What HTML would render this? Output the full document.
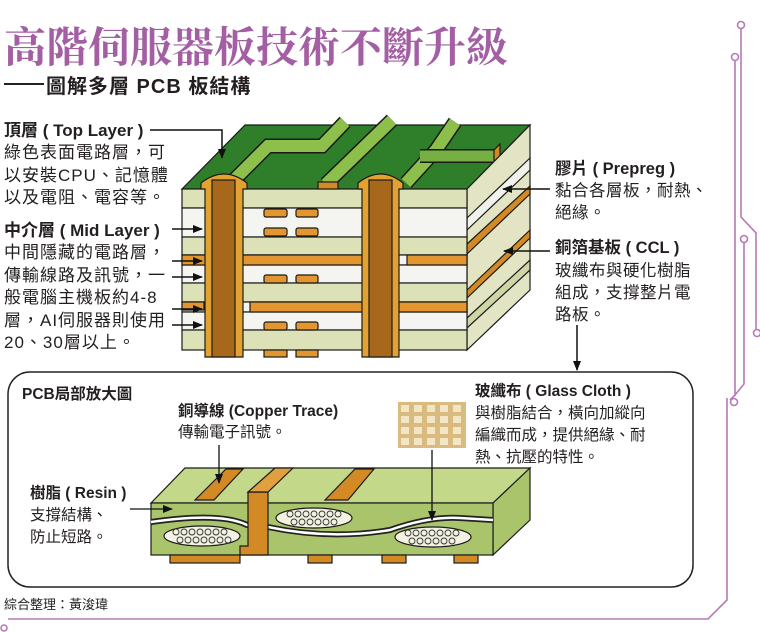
<!DOCTYPE html>
<html><head><meta charset="utf-8">
<style>
html,body{margin:0;padding:0;background:#fff;}
svg{display:block;}
text{font-family:"Liberation Sans","Noto Sans CJK TC",sans-serif;fill:#231f20;}
.b{font-weight:bold;}
</style></head><body>
<svg width="760" height="632" viewBox="0 0 760 632" xmlns="http://www.w3.org/2000/svg">
<defs>
<marker id="ar" markerWidth="10" markerHeight="8" refX="9" refY="4" orient="auto" markerUnits="userSpaceOnUse">
<path d="M0,0 L10,4 L0,8 z" fill="#111"/></marker>
</defs>
<!-- Title -->
<text x="4" y="62" font-size="42" font-weight="bold" style="fill:#a45fa4;font-family:'Liberation Serif','Noto Serif CJK SC',serif">高階伺服器板技術不斷升級</text>
<line x1="4" y1="84" x2="44" y2="84" stroke="#222" stroke-width="2"/>
<text x="46" y="93" font-size="20" font-weight="bold" letter-spacing="1">圖解多層 PCB 板結構</text>

<!-- circuit decoration -->
<g stroke="#b77ab7" stroke-width="1.6" fill="#fff">
<polyline fill="none" points="741,29 741,217 756,233 756,329"/>
<circle cx="741" cy="25" r="3.5"/><circle cx="757" cy="333" r="3.5"/>
<polyline fill="none" points="735,61 735,395 730,400"/>
<polyline fill="none" points="744,243 744,384 735,395"/>
<circle cx="735" cy="57" r="3.5"/><circle cx="744" cy="239" r="3.5"/><circle cx="734" cy="402" r="3.5"/>
<polyline fill="none" points="727,398 727,600 708,619 8,619"/>
<circle cx="4" cy="628" r="3"/>
</g>

<!-- Main PCB block -->
<g stroke="#1a1a1a" stroke-width="1.2">
<polygon points="182,189 467,189 530,125 245,125" fill="#2f7e2a"/>
</g>
<!-- top traces as ribbons -->
<g fill="none" stroke-linejoin="miter">
<polyline points="232,182 268,146 322,146 345,122" stroke="#1a1a1a" stroke-width="15"/>
<polyline points="232,182 268,146 322,146 345,122" stroke="#8cc04a" stroke-width="12"/>
<polyline points="326,184 392,120" stroke="#1a1a1a" stroke-width="15"/>
<polyline points="326,184 392,120" stroke="#8cc04a" stroke-width="12"/>
<polyline points="406,183 436,150 455,122" stroke="#1a1a1a" stroke-width="15"/>
<polyline points="406,183 436,150 455,122" stroke="#8cc04a" stroke-width="12"/>
<polyline points="420,156 494,156" stroke="#1a1a1a" stroke-width="14"/>
<polyline points="420,156 494,156" stroke="#76b043" stroke-width="11"/>
</g>
<g stroke="#1a1a1a" stroke-width="1.2">
<polygon points="494,150 500,144 500,157 494,163" fill="#d38a25"/>
<!-- right face -->
<polygon points="467,189 530,125 530,290 467,350" fill="#e2e4c4"/>
<polygon points="467,244 530,186 530,194 467,254" fill="#d38a25"/>
<polygon points="467,290 530,230 530,238 467,298" fill="#d38a25"/>
<polygon points="467,318 530,260 530,270 467,328" fill="#cfd6a6"/>
<polygon points="467,218 530,158 530,170 467,230" fill="#f2f2ec"/>
<!-- front face layers -->
<rect x="182" y="189" width="285" height="19" fill="#dde1b8"/>
<rect x="182" y="208" width="285" height="29" fill="#f4f4f1"/>
<rect x="182" y="237" width="285" height="18" fill="#dde1b8"/>
<rect x="182" y="255" width="285" height="10" fill="#f4f4f1"/>
<rect x="182" y="265" width="285" height="18" fill="#f4f4f1"/>
<rect x="182" y="283" width="285" height="19" fill="#dde1b8"/>
<rect x="182" y="302" width="285" height="10" fill="#f4f4f1"/>
<rect x="182" y="312" width="285" height="18" fill="#f4f4f1"/>
<rect x="182" y="330" width="285" height="20" fill="#dde1b8"/>
<rect x="182" y="255" width="182" height="10" fill="#e3962f"/>
<rect x="407" y="255" width="60" height="10" fill="#e3962f"/>
<rect x="250" y="302" width="217" height="10" fill="#e3962f"/>
<rect x="182" y="302" width="22" height="8" fill="#e3962f"/>
<g fill="#e3962f">
<rect x="264" y="209" width="23" height="8" rx="2"/><rect x="296" y="209" width="22" height="8" rx="2"/>
<rect x="264" y="228" width="23" height="8" rx="2"/><rect x="296" y="228" width="22" height="8" rx="2"/>
<rect x="264" y="275" width="23" height="8" rx="2"/><rect x="296" y="275" width="22" height="8" rx="2"/>
<rect x="264" y="322" width="23" height="8" rx="2"/><rect x="296" y="322" width="22" height="8" rx="2"/>
<rect x="264" y="350" width="23" height="7"/><rect x="296" y="350" width="22" height="7"/>
</g>
<path d="M201,189 L201,183 Q224,165 247,183 L247,189 L243,189 L243,357 L205,357 L205,189 Z" fill="#e3a12f"/>
<rect x="212" y="180" width="23" height="177" fill="#a8681c"/>
<path d="M358,189 L358,183 Q381,165 403,183 L403,189 L399,189 L399,357 L362,357 L362,189 Z" fill="#e3a12f"/>
<rect x="369" y="180" width="23" height="177" fill="#a8681c"/>
<rect x="318" y="182" width="20" height="7" fill="#d38a25"/>
</g>
<g stroke="#111" stroke-width="1.5" fill="none" marker-end="url(#ar)">
<polyline points="150,130 222,130 222,158"/>
<line x1="172" y1="229" x2="202" y2="229"/>
<line x1="172" y1="261" x2="202" y2="261"/>
<line x1="172" y1="277" x2="202" y2="277"/>
<line x1="172" y1="309" x2="202" y2="309"/>
<line x1="172" y1="325" x2="202" y2="325"/>
<line x1="550" y1="189" x2="503" y2="189"/>
<line x1="550" y1="251" x2="504" y2="251"/>
<line x1="577" y1="325" x2="577" y2="370"/>
</g>

<g font-size="17" letter-spacing="1">
<text x="4" y="136" class="b" letter-spacing="0">頂層 ( Top Layer )</text>
<text x="4" y="158">綠色表面電路層，可</text>
<text x="4" y="181">以安裝CPU、記憶體</text>
<text x="4" y="203">以及電阻、電容等。</text>
<text x="4" y="236" class="b" letter-spacing="0">中介層 ( Mid Layer )</text>
<text x="4" y="258">中間隱藏的電路層，</text>
<text x="4" y="281">傳輸線路及訊號，一</text>
<text x="4" y="303">般電腦主機板約4-8</text>
<text x="4" y="326">層，AI伺服器則使用</text>
<text x="4" y="348">20、30層以上。</text>
</g>
<g font-size="16.5" letter-spacing="0.5">
<text x="555" y="174" class="b" letter-spacing="0">膠片 ( Prepreg )</text>
<text x="555" y="196">黏合各層板，耐熱、</text>
<text x="555" y="218">絕緣。</text>
<text x="555" y="253" class="b" letter-spacing="0">銅箔基板 ( CCL )</text>
<text x="555" y="276">玻纖布與硬化樹脂</text>
<text x="555" y="298">組成，支撐整片電</text>
<text x="555" y="320">路板。</text>
</g>

<rect x="8" y="372" width="685" height="215" rx="22" fill="none" stroke="#222" stroke-width="1.5"/>
<g font-size="15.5">
<text x="22" y="399" class="b">PCB局部放大圖</text>
<text x="178" y="416" class="b">銅導線 (Copper Trace)</text>
<text x="178" y="437">傳輸電子訊號。</text>
<text x="475" y="396" class="b">玻纖布 ( Glass Cloth )</text>
<text x="475" y="418">與樹脂結合，橫向加縱向</text>
<text x="475" y="440">編織而成，提供絕緣、耐</text>
<text x="475" y="462">熱、抗壓的特性。</text>
<text x="30" y="498" class="b">樹脂 ( Resin )</text>
<text x="30" y="520">支撐結構、</text>
<text x="30" y="542">防止短路。</text>
</g>
<rect x="398" y="402" width="68" height="46" fill="#d9bb80"/>
<g fill="#f3e6c6">
<rect x="401" y="405" width="8" height="7"/><rect x="414" y="405" width="8" height="7"/><rect x="427" y="405" width="8" height="7"/><rect x="440" y="405" width="8" height="7"/><rect x="453" y="405" width="8" height="7"/>
<rect x="401" y="416" width="8" height="7"/><rect x="414" y="416" width="8" height="7"/><rect x="427" y="416" width="8" height="7"/><rect x="440" y="416" width="8" height="7"/><rect x="453" y="416" width="8" height="7"/>
<rect x="401" y="427" width="8" height="7"/><rect x="414" y="427" width="8" height="7"/><rect x="427" y="427" width="8" height="7"/><rect x="440" y="427" width="8" height="7"/><rect x="453" y="427" width="8" height="7"/>
<rect x="401" y="438" width="8" height="7"/><rect x="414" y="438" width="8" height="7"/><rect x="427" y="438" width="8" height="7"/><rect x="440" y="438" width="8" height="7"/><rect x="453" y="438" width="8" height="7"/>
</g>

<g stroke="#1a1a1a" stroke-width="1.2">
<polygon points="151,503 493,503 530,468 185,468" fill="#c4d88a"/>
<polygon points="493,503 530,468 530,520 493,555" fill="#a9c46a"/>
<rect x="151" y="503" width="342" height="52" fill="#a9c46a"/>
<g fill="#d38a25">
<rect x="170" y="555" width="70" height="8"/><rect x="308" y="555" width="24" height="8"/><rect x="382" y="555" width="24" height="8"/><rect x="454" y="555" width="24" height="8"/>
</g>
<path d="M151,522 Q220,512 247,525 L268,527 Q330,540 390,530 Q430,516 460,518 L493,520" fill="none" stroke="#222" stroke-width="6"/>
<path d="M151,522 Q220,512 247,525 L268,527 Q330,540 390,530 Q430,516 460,518 L493,520" fill="none" stroke="#fff" stroke-width="2.5"/>
<ellipse cx="202" cy="536" rx="38" ry="10" fill="#f3f2e2"/>
<ellipse cx="314" cy="518" rx="38" ry="10" fill="#f3f2e2"/>
<ellipse cx="433" cy="537" rx="38" ry="10" fill="#f3f2e2"/>
<polygon points="195,500 214,500 243,469 226,469" fill="#d38a25"/>
<polygon points="325,500 348,500 374,469 355,469" fill="#d38a25"/>
<path d="M248,492 L268,492 L268,555 L240,555 L240,546 L248,546 Z" fill="#d38a25"/>
<polygon points="248,492 268,492 293,468 275,468" fill="#e0a040"/>
</g>
<g fill="none" stroke="#333" stroke-width="0.9">
<circle cx="176" cy="532" r="3"/><circle cx="184" cy="532" r="3"/><circle cx="192" cy="532" r="3"/><circle cx="200" cy="532" r="3"/><circle cx="208" cy="532" r="3"/><circle cx="216" cy="532" r="3"/><circle cx="224" cy="532" r="3"/>
<circle cx="180" cy="540" r="3"/><circle cx="188" cy="540" r="3"/><circle cx="196" cy="540" r="3"/><circle cx="204" cy="540" r="3"/><circle cx="212" cy="540" r="3"/><circle cx="220" cy="540" r="3"/><circle cx="228" cy="540" r="3"/>
<circle cx="290" cy="514" r="3"/><circle cx="298" cy="514" r="3"/><circle cx="306" cy="514" r="3"/><circle cx="314" cy="514" r="3"/><circle cx="322" cy="514" r="3"/><circle cx="330" cy="514" r="3"/><circle cx="338" cy="514" r="3"/>
<circle cx="294" cy="522" r="3"/><circle cx="302" cy="522" r="3"/><circle cx="310" cy="522" r="3"/><circle cx="318" cy="522" r="3"/><circle cx="326" cy="522" r="3"/><circle cx="334" cy="522" r="3"/>
<circle cx="408" cy="533" r="3"/><circle cx="416" cy="533" r="3"/><circle cx="424" cy="533" r="3"/><circle cx="432" cy="533" r="3"/><circle cx="440" cy="533" r="3"/><circle cx="448" cy="533" r="3"/><circle cx="456" cy="533" r="3"/>
<circle cx="412" cy="541" r="3"/><circle cx="420" cy="541" r="3"/><circle cx="428" cy="541" r="3"/><circle cx="436" cy="541" r="3"/><circle cx="444" cy="541" r="3"/><circle cx="452" cy="541" r="3"/>
</g>
<g stroke="#111" stroke-width="1.3" fill="none" marker-end="url(#ar)">
<line x1="219" y1="445" x2="219" y2="483"/>
<line x1="432" y1="450" x2="432" y2="520"/>
<line x1="130" y1="509" x2="172" y2="509"/>
</g>
<text x="4" y="609" font-size="13">綜合整理：黃浚瑋</text>
</svg>
</body></html>
